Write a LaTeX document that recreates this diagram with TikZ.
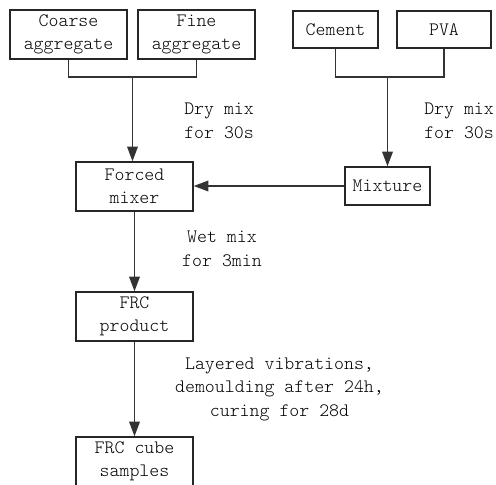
\documentclass[tikz,border=0pt]{standalone}
\usepackage{fontspec}
\setmonofont{Latin Modern Mono Light}
\usetikzlibrary{arrows.meta}
\newcommand\diaglbl{\fontsize{14.2pt}{17.6pt}\selectfont\ttfamily}
\begin{document}
\begin{tikzpicture}[x=0.75pt,y=-0.75pt,
  box/.style={draw=black!85, line width=1.1pt, inner sep=0pt, align=center, font=\diaglbl},
  conn/.style={draw=black!80, line width=1.1pt},
  arr/.style={conn, -{Triangle[length=11pt,width=8pt]}},
  lab/.style={inner sep=0pt, font=\diaglbl, align=center}]
\useasboundingbox (0,0) rectangle (496,485);
\fill[white] (0,0) rectangle (496,485);

\node[box, minimum width=87.75pt, minimum height=36.75pt] (coarse) at (68.5,34.5) {Coarse\\aggregate};
\node[box, minimum width=87.75pt, minimum height=36.75pt] (fine) at (196.5,34.5) {Fine\\aggregate};
\node[box, minimum width=63.75pt, minimum height=27.75pt] (cement) at (335.5,29.5) {Cement};
\node[box, minimum width=70.5pt, minimum height=27.75pt] (pva) at (444,29.5) {PVA};
\node[box, minimum width=87.75pt, minimum height=36.75pt] (forced) at (134.5,186.5) {Forced\\mixer};
\node[box, minimum width=63.75pt, minimum height=28.5pt] (mixture) at (387.5,186) {Mixture};
\node[box, minimum width=87.75pt, minimum height=36.75pt] (product) at (134.5,316.5) {FRC\\product};
\node[box, minimum width=87.75pt, minimum height=36.75pt] (cube) at (134.5,461.5) {FRC cube\\samples};

\coordinate (ja) at (132.5,77);
\coordinate (jb) at (387.5,77);
\draw[conn] (coarse.south) |- (ja) -| (fine.south);
\draw[arr] (ja) -- (ja |- forced.north);
\draw[conn] (cement.south) |- (jb) -| (pva.south);
\draw[arr] (jb) -- (mixture.north);
\draw[arr] (mixture.west) -- (mixture.west -| forced.east);
\draw[arr] (forced.south) -- (product.north);
\draw[arr] (product.south) -- (cube.north);

\node[lab, anchor=west, align=left] (l1) at (184,121) {Dry mix\\for 30s};
\node[lab, anchor=west, align=left] (l2) at (424,121) {Dry mix\\for 30s};
\node[lab] (l3) at (222,249) {Wet mix\\for 3min};
\node[lab] (l4) at (279.5,389) {Layered vibrations,\\demoulding after 24h,\\curing for 28d};
\end{tikzpicture}
\end{document}
